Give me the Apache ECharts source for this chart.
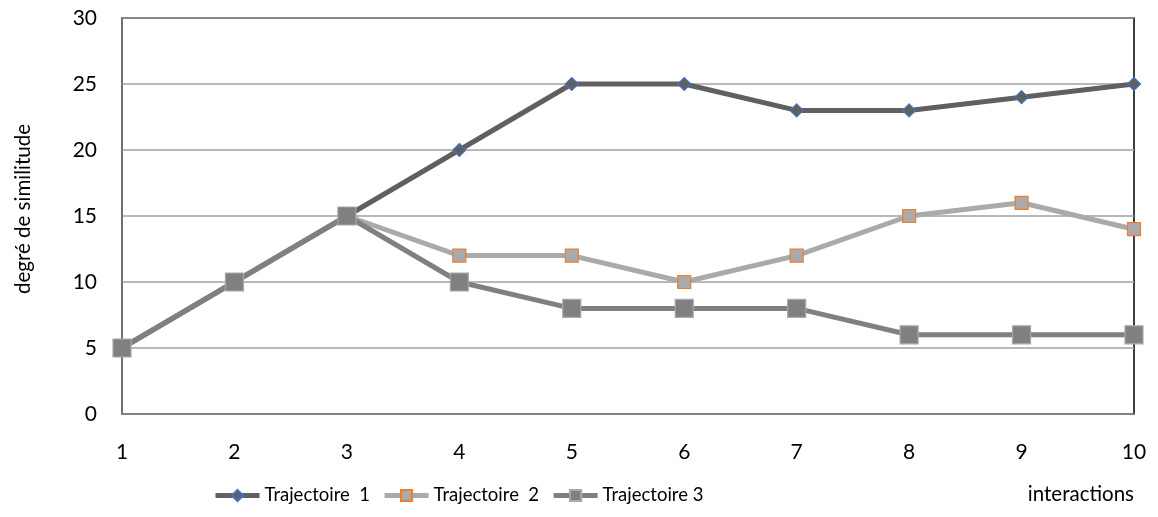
<!DOCTYPE html>
<html><head><meta charset="utf-8">
<script src="https://cdn.jsdelivr.net/npm/echarts@6/dist/echarts.min.js"></script>
<style>html,body{margin:0;padding:0;background:#fff}#c{width:1158px;height:517px}</style>
</head><body><div id="c"></div>
<script>
const categories = ['1','2','3','4','5','6','7','8','9','10'];
const traj1 = [5,10,15,20,25,25,23,23,24,25];
const traj2 = [5,10,15,12,12,10,12,15,16,14];
const traj3 = [5,10,15,10,8,8,8,6,6,6];
const seriesNames = ['Trajectoire  1','Trajectoire  2','Trajectoire 3'];
const FONT = 'Lato';
const chart = echarts.init(document.getElementById('c'));
chart.setOption({
  animation:false,
  textStyle:{fontFamily:FONT},
  grid:{left:122,right:24,top:18,bottom:103,show:true,borderColor:'#000',borderWidth:1.5},
  legend:{
    left:208, top:481, itemWidth:44, itemHeight:14, itemGap:12,
    textStyle:{fontFamily:FONT,fontSize:18.5,color:'#000'},
    lineStyle:{width:5},
    data:seriesNames
  },
  xAxis:{
    type:'category', data:categories, boundaryGap:false,
    name:'interactions', nameLocation:'end', nameGap:0,
    nameTextStyle:{fontFamily:FONT,fontSize:20.5,color:'#000',align:'right',verticalAlign:'top',padding:[70,0,0,0]},
    axisLine:{lineStyle:{color:'#808080',width:1.5}},
    axisTick:{show:false},
    axisLabel:{fontSize:21,color:'#000',margin:28}
  },
  yAxis:{
    type:'value', min:0, max:30, interval:5,
    name:'degré de similitude', nameLocation:'middle', nameGap:88, nameRotate:90,
    nameTextStyle:{fontFamily:FONT,fontSize:20.5,color:'#000',padding:[0,0,0,14]},
    axisLine:{show:true,lineStyle:{color:'#808080',width:1.5}},
    axisTick:{show:false},
    axisLabel:{fontSize:21,color:'#000',margin:25},
    splitLine:{lineStyle:{color:'#A0A0A0',width:1.5}}
  },
  series:[
    {name:seriesNames[0],type:'line',data:traj1,symbol:'diamond',symbolSize:13,
     lineStyle:{color:'#606060',width:5},
     itemStyle:{color:'#606060',borderColor:'#4472C4',borderWidth:1.2},z:3},
    {name:seriesNames[1],type:'line',data:traj2,symbol:'rect',symbolSize:13,
     lineStyle:{color:'#AAAAAA',width:5},
     itemStyle:{color:'#AAAAAA',borderColor:'#ED7D31',borderWidth:1.2},z:4},
    {name:seriesNames[2],type:'line',data:traj3,symbol:'rect',symbolSize:18,
     lineStyle:{color:'#808080',width:5},
     itemStyle:{color:'#808080',borderColor:'#A8A8A8',borderWidth:1.2},z:5}
  ]
});
</script></body></html>
